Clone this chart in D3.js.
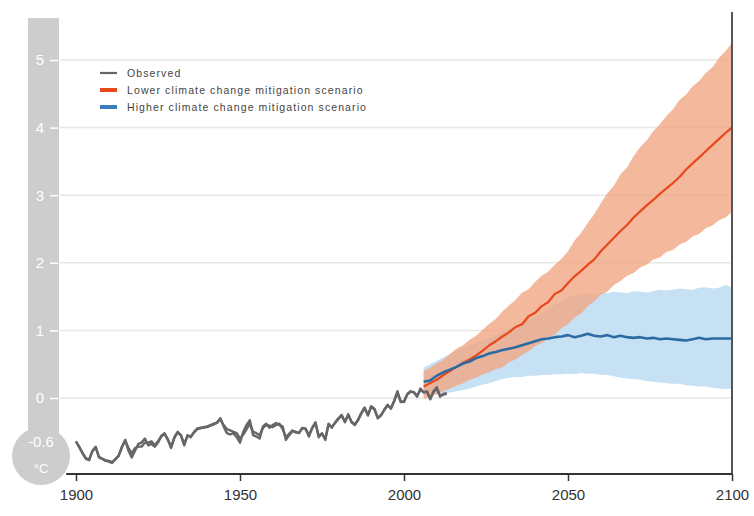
<!DOCTYPE html>
<html>
<head>
<meta charset="utf-8">
<script src="https://cdn.jsdelivr.net/npm/d3@7"></script>
<style>
  html, body { margin: 0; padding: 0; background: #fff; }
  svg { display: block; font-family: "Liberation Sans", Arial, Helvetica, sans-serif; }
</style>
</head>
<body>
<svg id="chart" width="754" height="516"></svg>
<script>
// Observed global temperature anomaly (°C), two records, 1900–2013
const obsYears = d3.range(1900, 2014);
const observedA = [
  -0.65, -0.72, -0.82, -0.90, -0.92, -0.78, -0.72, -0.88, -0.90, -0.93,
  -0.94, -0.96, -0.90, -0.86, -0.72, -0.62, -0.78, -0.88, -0.78, -0.68,
  -0.66, -0.60, -0.70, -0.68, -0.72, -0.66, -0.56, -0.52, -0.62, -0.74,
  -0.58, -0.50, -0.56, -0.70, -0.55, -0.58, -0.50, -0.45, -0.44, -0.44,
  -0.42, -0.40, -0.38, -0.37, -0.30, -0.42, -0.52, -0.54, -0.52, -0.58,
  -0.66, -0.50, -0.40, -0.33, -0.55, -0.57, -0.60, -0.42, -0.38, -0.44,
  -0.40, -0.37, -0.40, -0.42, -0.62, -0.55, -0.49, -0.50, -0.52, -0.44,
  -0.46, -0.57, -0.44, -0.36, -0.58, -0.52, -0.62, -0.38, -0.44, -0.36,
  -0.30, -0.25, -0.36, -0.24, -0.36, -0.40, -0.32, -0.22, -0.14, -0.26,
  -0.12, -0.16, -0.30, -0.26, -0.17, -0.10, -0.16, -0.04, 0.10, -0.06,
  -0.05, 0.06, 0.10, 0.08, 0.02, 0.14, 0.08, 0.10, -0.02, 0.10,
  0.16, 0.02, 0.06, 0.07
];
const observedB = [
  -0.64, -0.73, -0.81, -0.89, -0.91, -0.79, -0.73, -0.87, -0.90, -0.92,
  -0.93, -0.95, -0.91, -0.85, -0.73, -0.63, -0.74, -0.82, -0.74, -0.72,
  -0.72, -0.66, -0.66, -0.64, -0.70, -0.64, -0.57, -0.53, -0.61, -0.72,
  -0.59, -0.51, -0.55, -0.68, -0.56, -0.57, -0.51, -0.46, -0.45, -0.43,
  -0.43, -0.41, -0.39, -0.36, -0.31, -0.40, -0.46, -0.48, -0.50, -0.52,
  -0.60, -0.54, -0.46, -0.38, -0.50, -0.52, -0.55, -0.44, -0.40, -0.41,
  -0.43, -0.40, -0.38, -0.46, -0.58, -0.53, -0.48, -0.51, -0.51, -0.45,
  -0.45, -0.55, -0.45, -0.37, -0.56, -0.53, -0.60, -0.39, -0.43, -0.37,
  -0.31, -0.26, -0.35, -0.25, -0.35, -0.39, -0.33, -0.23, -0.15, -0.25,
  -0.13, -0.17, -0.29, -0.25, -0.18, -0.11, -0.15, -0.05, 0.08, -0.05,
  -0.06, 0.05, 0.09, 0.09, 0.03, 0.12, 0.09, 0.09, -0.01, 0.09,
  0.14, 0.03, 0.05, 0.06
];

// Projections, 2006–2100 every second year
const projYears = d3.range(2006, 2101, 2);
const lowerMean = [
  0.17, 0.22, 0.27, 0.34, 0.40, 0.46, 0.52, 0.57, 0.63, 0.70,
  0.78, 0.84, 0.91, 0.97, 1.05, 1.09, 1.21, 1.26, 1.36, 1.42,
  1.54, 1.59, 1.70, 1.80, 1.88, 1.97, 2.05, 2.17, 2.27, 2.37,
  2.47, 2.56, 2.67, 2.76, 2.85, 2.93, 3.02, 3.10, 3.18, 3.27,
  3.38, 3.47, 3.56, 3.65, 3.74, 3.83, 3.92, 4.00
];
const lowerHigh = [
  0.40, 0.45, 0.51, 0.57, 0.65, 0.73, 0.78, 0.86, 0.92, 1.01,
  1.10, 1.17, 1.28, 1.37, 1.45, 1.56, 1.61, 1.72, 1.81, 1.87,
  1.97, 2.06, 2.17, 2.33, 2.44, 2.59, 2.72, 2.88, 3.03, 3.14,
  3.31, 3.41, 3.58, 3.71, 3.81, 3.95, 4.05, 4.17, 4.27, 4.41,
  4.49, 4.61, 4.69, 4.81, 4.89, 5.03, 5.13, 5.25
];
const lowerLow = [
  -0.02, 0.02, 0.06, 0.10, 0.14, 0.18, 0.22, 0.27, 0.30, 0.35,
  0.38, 0.43, 0.45, 0.53, 0.57, 0.64, 0.69, 0.77, 0.81, 0.89,
  0.94, 1.03, 1.09, 1.19, 1.25, 1.36, 1.43, 1.53, 1.57, 1.67,
  1.73, 1.81, 1.85, 1.93, 1.97, 2.05, 2.08, 2.16, 2.19, 2.27,
  2.31, 2.39, 2.43, 2.51, 2.55, 2.63, 2.67, 2.75
];
const higherMean = [
  0.24, 0.26, 0.33, 0.38, 0.42, 0.46, 0.51, 0.54, 0.59, 0.62,
  0.66, 0.68, 0.71, 0.73, 0.75, 0.78, 0.81, 0.84, 0.87, 0.88,
  0.90, 0.91, 0.93, 0.90, 0.92, 0.95, 0.92, 0.91, 0.93, 0.90,
  0.92, 0.90, 0.89, 0.90, 0.88, 0.89, 0.87, 0.88, 0.87, 0.86,
  0.85, 0.87, 0.89, 0.87, 0.88, 0.88, 0.88, 0.88
];
const higherHigh = [
  0.45, 0.50, 0.55, 0.60, 0.65, 0.70, 0.75, 0.79, 0.82, 0.85,
  0.88, 0.93, 0.98, 1.02, 1.07, 1.12, 1.16, 1.20, 1.25, 1.32,
  1.38, 1.44, 1.48, 1.52, 1.54, 1.55, 1.53, 1.56, 1.55, 1.57,
  1.56, 1.55, 1.58, 1.57, 1.56, 1.58, 1.60, 1.59, 1.60, 1.62,
  1.61, 1.60, 1.63, 1.64, 1.62, 1.63, 1.67, 1.64
];
const higherLow = [
  0.05, 0.04, 0.05, 0.06, 0.08, 0.10, 0.12, 0.14, 0.17, 0.20,
  0.22, 0.25, 0.28, 0.30, 0.31, 0.31, 0.33, 0.33, 0.34, 0.34,
  0.35, 0.35, 0.36, 0.35, 0.37, 0.36, 0.36, 0.34, 0.34, 0.32,
  0.30, 0.29, 0.28, 0.27, 0.25, 0.24, 0.23, 0.22, 0.21, 0.21,
  0.19, 0.18, 0.17, 0.17, 0.15, 0.14, 0.13, 0.14
];

const xTicks = [1900, 1950, 2000, 2050, 2100];
const yTicks = [0, 1, 2, 3, 4, 5];
const bulbLabel = "-0.6";
const unitLabel = "°C";
const legendItems = [
  { label: "Observed", color: "#666", width: 2.2 },
  { label: "Lower climate change mitigation scenario", color: "#e8481c", width: 4 },
  { label: "Higher climate change mitigation scenario", color: "#3a7cc0", width: 4 }
];

const svg = d3.select("#chart");
const x = d3.scaleLinear().domain([1900, 2100]).range([76, 732]);
const y = d3.scaleLinear().domain([0, 5]).range([398, 60]);
const axisY = 474;

// Thermometer scale: grey tube with a bulb at the bottom
const tubeX = 28, tubeW = 31;
const bulb = { cx: 41, cy: 456, r: 29 };
svg.append("rect")
  .attr("x", tubeX).attr("y", 18)
  .attr("width", tubeW).attr("height", bulb.cy - 18)
  .attr("fill", "#cdcdcd");
svg.append("circle")
  .attr("cx", bulb.cx).attr("cy", bulb.cy).attr("r", bulb.r)
  .attr("fill", "#cdcdcd");

// Horizontal gridlines
svg.append("g").selectAll("line").data(yTicks).join("line")
  .attr("x1", 60).attr("x2", x(2100))
  .attr("y1", d => y(d)).attr("y2", d => y(d))
  .attr("stroke", "#e6e6e6").attr("stroke-width", 1.5);

// Y axis inside the tube
const yAxis = svg.append("g")
  .attr("transform", `translate(58,0)`)
  .call(d3.axisLeft(y).tickValues(yTicks).tickSize(8).tickPadding(6).tickFormat(d3.format("d")));
yAxis.select(".domain").remove();
yAxis.selectAll(".tick line").attr("stroke", "#fff").attr("stroke-width", 1.5);
yAxis.selectAll(".tick text")
  .attr("fill", "#fff").attr("font-size", 15)
  .attr("text-anchor", "middle").attr("x", -18);

svg.append("text")
  .attr("x", bulb.cx).attr("y", y(-0.6) + 8)
  .attr("text-anchor", "middle").attr("fill", "#fff").attr("font-size", 15)
  .text(bulbLabel);
svg.append("text")
  .attr("x", bulb.cx).attr("y", bulb.cy + 17)
  .attr("text-anchor", "middle").attr("fill", "#fff").attr("font-size", 13)
  .text(unitLabel);

// Uncertainty ranges
const band = (lo, hi) => d3.area()
  .x((d, i) => x(projYears[i]))
  .y0((d, i) => y(lo[i]))
  .y1((d, i) => y(hi[i]));

svg.append("path")
  .datum(projYears)
  .attr("d", band(higherLow, higherHigh))
  .attr("fill", "#c6e0f4");
svg.append("path")
  .datum(projYears)
  .attr("d", band(lowerLow, lowerHigh))
  .attr("fill", "#f1a683").attr("fill-opacity", 0.8);

// Observed records
const obsLine = d3.line().x((d, i) => x(obsYears[i])).y(d => y(d));
[observedB, observedA].forEach(series => {
  svg.append("path")
    .datum(series)
    .attr("d", obsLine)
    .attr("fill", "none")
    .attr("stroke", "#666").attr("stroke-width", 2.4)
    .attr("stroke-linejoin", "round");
});

// Scenario means
const projLine = d3.line().x((d, i) => x(projYears[i])).y(d => y(d));
svg.append("path").datum(lowerMean).attr("d", projLine)
  .attr("fill", "none").attr("stroke", "#e8481c").attr("stroke-width", 2.2)
  .attr("stroke-linejoin", "round");
svg.append("path").datum(higherMean).attr("d", projLine)
  .attr("fill", "none").attr("stroke", "#2c6aa3").attr("stroke-width", 2.6)
  .attr("stroke-linejoin", "round");

// Right frame line
svg.append("line")
  .attr("x1", x(2100)).attr("x2", x(2100))
  .attr("y1", 12).attr("y2", axisY)
  .attr("stroke", "#555").attr("stroke-width", 2);

// Bottom axis
const xAxis = svg.append("g")
  .attr("transform", `translate(0,${axisY})`)
  .call(d3.axisBottom(x).tickValues(xTicks).tickSize(7).tickPadding(8).tickFormat(d3.format("d")));
xAxis.select(".domain").remove();
xAxis.append("line")
  .attr("x1", x(1897)).attr("x2", x(2100))
  .attr("stroke", "#333").attr("stroke-width", 2);
xAxis.selectAll(".tick line").attr("stroke", "#333").attr("stroke-width", 1.5);
xAxis.selectAll(".tick text").attr("fill", "#333").attr("font-size", 15);

// Legend
const legend = svg.append("g").attr("transform", "translate(100,73)");
const rows = legend.selectAll("g").data(legendItems).join("g")
  .attr("transform", (d, i) => `translate(0,${i * 17})`);
rows.append("line")
  .attr("x1", 0).attr("x2", 17)
  .attr("stroke", d => d.color).attr("stroke-width", d => d.width);
rows.append("text")
  .attr("x", 27).attr("dy", "0.35em")
  .attr("font-size", 10.5).attr("letter-spacing", 1.1)
  .attr("fill", "#444")
  .text(d => d.label);
</script>
</body>
</html>
